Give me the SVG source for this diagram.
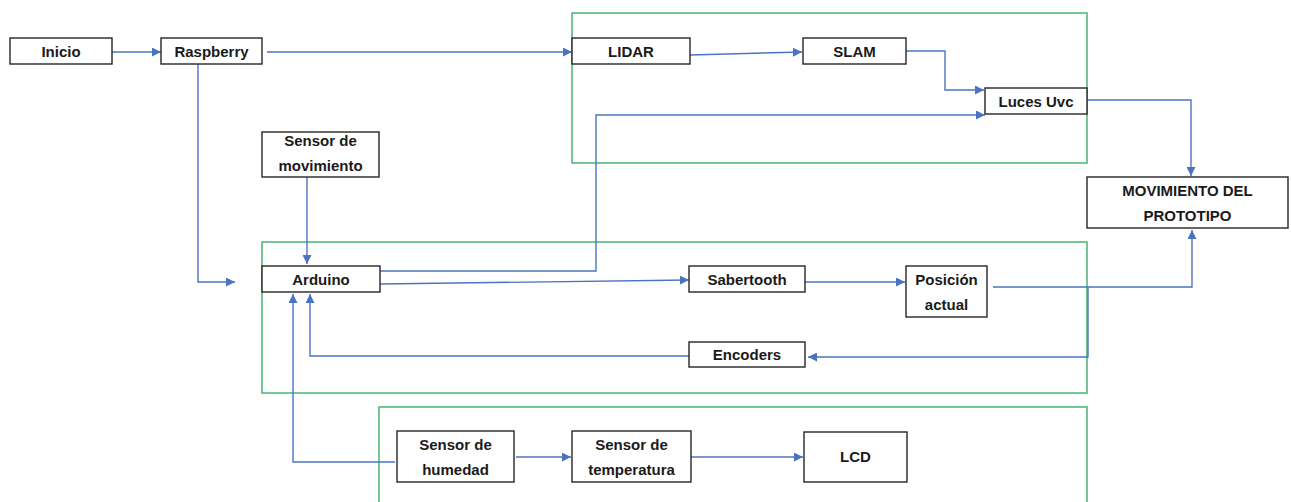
<svg xmlns="http://www.w3.org/2000/svg" width="1291" height="502" viewBox="0 0 1291 502">
<defs>
<style>
.bg{fill:#ffffff}
.grp{fill:none;stroke:#3cae6a;stroke-width:1.4}
.box{fill:#ffffff;stroke:#262626;stroke-width:1.4}
.t{font-family:"Liberation Sans",Arial,sans-serif;font-weight:bold;font-size:15px;fill:#1a1a1a;text-anchor:middle}
.c{fill:none;stroke:#4a74c2;stroke-width:1.4}
.ca{fill:none;stroke:#4a74c2;stroke-width:1.4;marker-end:url(#ah)}
</style>
<marker id="ah" viewBox="0 0 10 10" refX="10" refY="5" markerWidth="9" markerHeight="9" markerUnits="userSpaceOnUse" orient="auto">
<path d="M0,0 L10,5 L0,10 z" fill="#4a74c2"/>
</marker>
</defs>
<rect class="bg" x="0" y="0" width="1291" height="502"/>
<g id="groups">
<rect class="grp" x="572" y="13" width="515" height="150"/>
<rect class="grp" x="262" y="242" width="825" height="151"/>
<rect class="grp" x="379" y="407" width="708" height="100"/>
</g>
<g id="connectors">
<path class="ca" d="M112,52 H161"/>
<path class="ca" d="M267,52 H572"/>
<path class="ca" d="M198,64 V282 H235"/>
<path class="ca" d="M307,177 V264"/>
<path class="ca" d="M380,271 H596 V115 H985"/>
<path class="ca" d="M380,284 L689,280"/>
<path class="ca" d="M805,282 H905"/>
<path class="ca" d="M993,287 H1192 V230"/>
<path class="ca" d="M1088,287 V357 H808"/>
<path class="ca" d="M689,356 H310 V294"/>
<path class="ca" d="M395,462 H293 V294"/>
<path class="ca" d="M516,457 H571"/>
<path class="ca" d="M691,457 H803"/>
<path class="ca" d="M690,55 L802,52"/>
<path class="ca" d="M906,51 H945 V90 H984"/>
<path class="ca" d="M1087,100 H1191 V176"/>
</g>
<g id="inicio"><rect class="box" x="10" y="38" width="102" height="26"/><text class="t" x="61" y="57">Inicio</text></g>
<g id="raspberry"><rect class="box" x="161" y="38" width="101" height="26"/><text class="t" x="211.5" y="57">Raspberry</text></g>
<g id="lidar"><rect class="box" x="572" y="38" width="118" height="26"/><text class="t" x="631" y="57">LIDAR</text></g>
<g id="slam"><rect class="box" x="803" y="38" width="103" height="26"/><text class="t" x="854.5" y="57">SLAM</text></g>
<g id="luces-uvc"><rect class="box" x="985" y="88" width="102" height="26"/><text class="t" x="1036" y="107">Luces Uvc</text></g>
<g id="movimiento-prototipo"><rect class="box" x="1087" y="177" width="201" height="51"/><text class="t" x="1187.5" y="196">MOVIMIENTO DEL</text><text class="t" x="1187.5" y="221">PROTOTIPO</text></g>
<g id="sensor-movimiento"><rect class="box" x="262" y="132" width="117" height="45"/><text class="t" x="320.5" y="146">Sensor de</text><text class="t" x="320.5" y="171">movimiento</text></g>
<g id="arduino"><rect class="box" x="262" y="266" width="118" height="26"/><text class="t" x="321" y="285">Arduino</text></g>
<g id="sabertooth"><rect class="box" x="689" y="266" width="116" height="26"/><text class="t" x="747" y="285">Sabertooth</text></g>
<g id="posicion-actual"><rect class="box" x="906" y="266" width="81" height="51"/><text class="t" x="946.5" y="285">Posición</text><text class="t" x="946.5" y="310">actual</text></g>
<g id="encoders"><rect class="box" x="689" y="342" width="116" height="25"/><text class="t" x="747" y="360">Encoders</text></g>
<g id="sensor-humedad"><rect class="box" x="397" y="431" width="117" height="51"/><text class="t" x="455.5" y="450">Sensor de</text><text class="t" x="455.5" y="475">humedad</text></g>
<g id="sensor-temperatura"><rect class="box" x="572" y="431" width="119" height="51"/><text class="t" x="631.5" y="450">Sensor de</text><text class="t" x="631.5" y="475">temperatura</text></g>
<g id="lcd"><rect class="box" x="804" y="432" width="103" height="50"/><text class="t" x="855.5" y="462">LCD</text></g>
</svg>
